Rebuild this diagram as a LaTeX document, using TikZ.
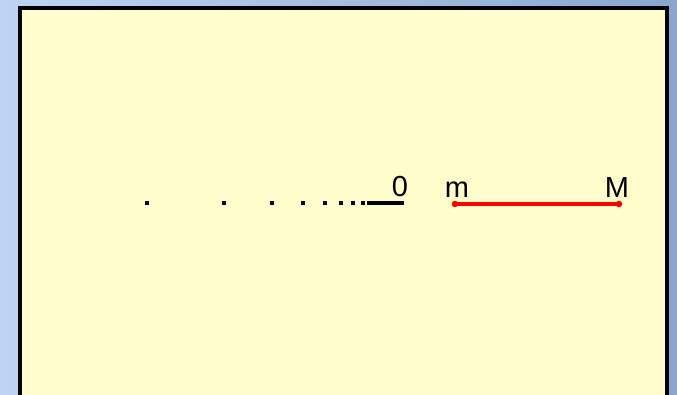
\documentclass[tikz,border=0pt]{standalone}
\usepackage{fontspec}
\setmainfont{Liberation Sans}
\begin{document}
\begin{tikzpicture}[x=1pt,y=-1pt,
  dotsq/.style={rectangle,fill=black,minimum size=4.5pt,inner sep=0pt},
  reddot/.style={circle,fill=red,minimum size=6.5pt,inner sep=0pt},
  lbl/.style={font=\fontsize{29}{29}\selectfont,inner sep=0pt,anchor=base},
  redline/.style={red,line width=4.5pt},
  zeroline/.style={black,line width=4.5pt}]
\definecolor{bgL}{RGB}{190,212,242}
\definecolor{bgR}{RGB}{138,166,206}
\definecolor{paper}{RGB}{255,253,204}
\useasboundingbox (0,0) rectangle (677,394);
\shade[left color=bgL,right color=bgR] (0,0) rectangle (677,394);
\begin{scope}
\clip (0,0) rectangle (677,394);
\draw[fill=paper,line width=3.5pt] (20,8) rectangle (667,400);
\end{scope}
% dots
\node[dotsq] (d1) at (147,203) {};
\node[dotsq] (d2) at (224,203) {};
\node[dotsq] (d3) at (272,203) {};
\node[dotsq] (d4) at (303,203) {};
\node[dotsq] (d5) at (325,203) {};
\node[dotsq] (d6) at (341,203) {};
\node[dotsq] (d7) at (353,203) {};
\node[dotsq] (d8) at (363,203) {};
\coordinate (z0) at (367,203);
\coordinate (z1) at (404,203);
\draw[zeroline] (z0) -- (z1);
\node[lbl] (zero) at (400,196) {0};
% red segment
\node[reddot] (m0) at (455,204) {};
\node[reddot] (M0) at (619,204) {};
\draw[redline] (m0.center) -- (M0.center);
\node[lbl] (m) at (457,197) {m};
\node[lbl] (M) at (617,197) {M};
\end{tikzpicture}
\end{document}
